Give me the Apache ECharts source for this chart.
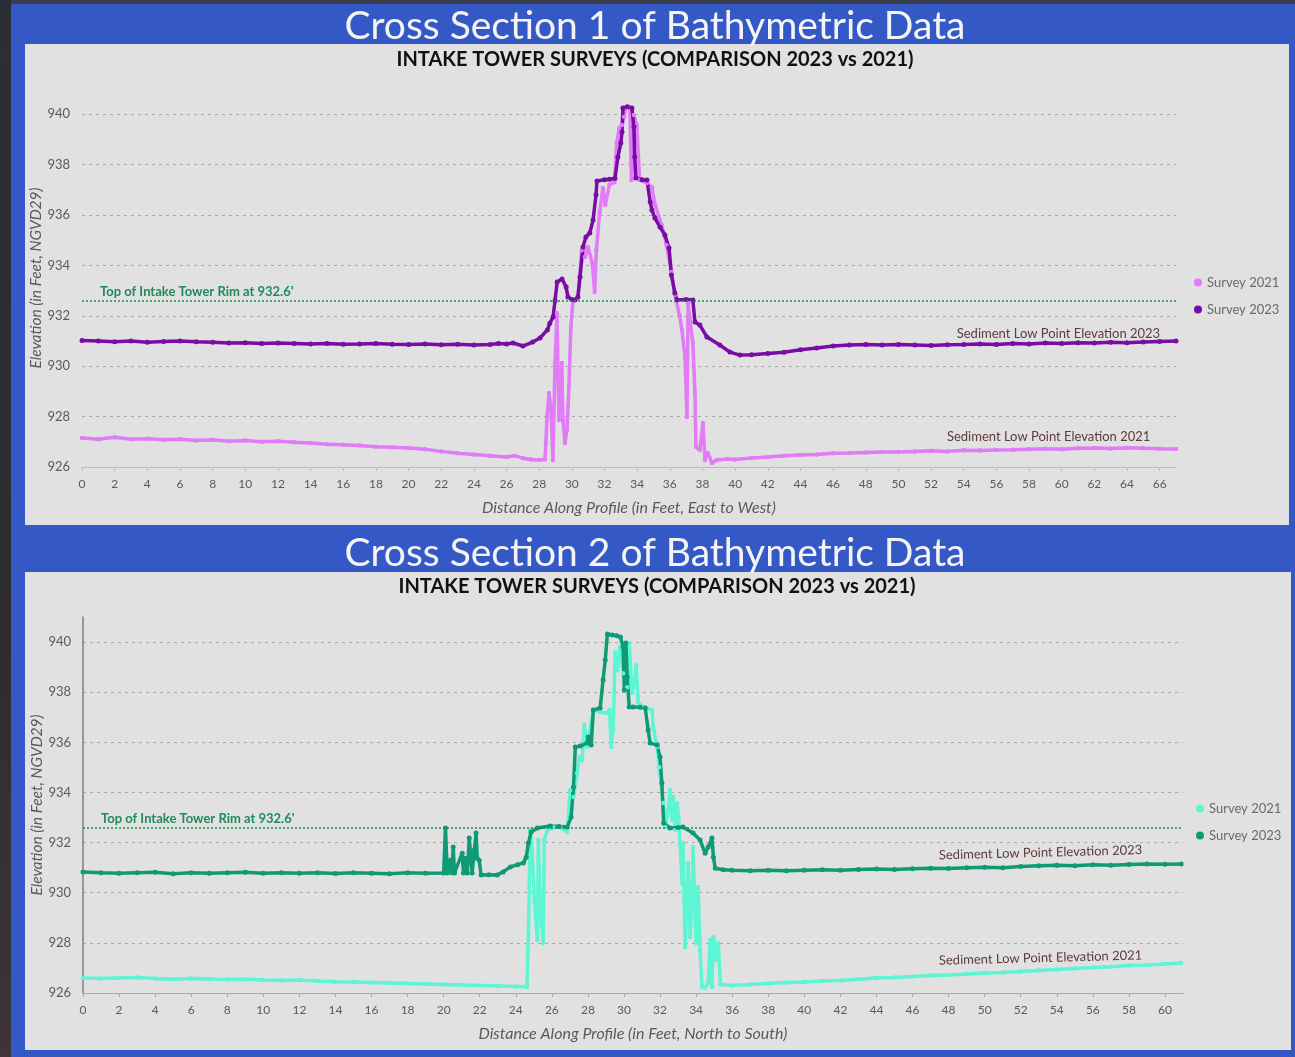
<!DOCTYPE html>
<html><head><meta charset="utf-8">
<script src="https://cdn.jsdelivr.net/npm/echarts@6/dist/echarts.min.js"></script>
<style>html,body{margin:0;padding:0;background:#34363f;overflow:hidden}#c{width:1295px;height:1057px}</style>
</head><body><div id="c"></div>
<script>
// ---------- text ----------
const panelTitles = ['Cross Section 1 of Bathymetric Data', 'Cross Section 2 of Bathymetric Data'];
const subTitle = 'INTAKE TOWER SURVEYS (COMPARISON 2023 vs 2021)';
const yAxisName = 'Elevation (in Feet, NGVD29)';
const xAxisNames = ['Distance Along Profile (in Feet, East to West)', 'Distance Along Profile (in Feet, North to South)'];
const legendNames = ['Survey 2021', 'Survey 2023'];
const rimElevation = 932.6;
const rimLabel = "Top of Intake Tower Rim at 932.6'";
const sedimentLabels = ['Sediment Low Point Elevation 2023', 'Sediment Low Point Elevation 2021'];
// label anchor positions [distance, elevation] for cross section 1 and 2
const cs1LabelPos = [[59.8, 931.3], [59.2, 927.2]];
const cs2LabelPos = [[53.1, 931.6], [53.1, 927.4]];

// ---------- Cross Section 1 data [distance ft, elevation ft] ----------
const cs1_2021 = [[0,927.15],[1,927.1],[2,927.18],[3,927.1],[4,927.12],[5,927.08],[6,927.1],[7,927.05],[8,927.08],[9,927.02],[10,927.05],[11,927.0],[12,927.02],[13,926.98],[14,926.95],[15,926.9],[16,926.88],[17,926.85],[18,926.8],[19,926.78],[20,926.75],[21,926.7],[22,926.62],[23,926.55],[24,926.5],[25,926.45],[26,926.4],[26.5,926.45],[27,926.35],[27.5,926.3],[28,926.28],[28.35,926.3],[28.41,926.95],[28.48,927.98],[28.6,928.94],[28.72,928.34],[28.84,926.28],[28.97,930.13],[29.09,932.11],[29.21,927.87],[29.39,930.13],[29.45,927.87],[29.58,926.95],[29.7,927.47],[29.82,929.17],[29.94,931.56],[30.07,932.63],[30.37,932.7],[30.6,934.6],[30.8,934.33],[30.98,934.73],[31.25,934.1],[31.4,932.94],[31.5,934.6],[31.7,936.1],[31.9,937.07],[32.05,936.4],[32.3,937.2],[32.6,937.3],[32.75,938.86],[32.9,939.45],[33.07,939.57],[33.2,939.9],[33.3,940.25],[33.55,940.29],[33.65,937.39],[33.8,939.97],[33.98,939.57],[34.15,937.39],[34.6,937.27],[34.9,937.1],[35.1,936.4],[35.5,935.6],[35.8,934.8],[36.1,933.74],[36.31,932.83],[36.6,932.0],[36.74,931.44],[36.93,930.37],[37.05,927.98],[37.12,932.5],[37.23,931.83],[37.41,930.92],[37.54,928.94],[37.6,926.8],[37.84,926.67],[38.03,927.75],[38.15,926.28],[38.33,926.56],[38.58,926.16],[38.88,926.28],[39.5,926.32],[40,926.3],[41,926.36],[42,926.4],[43,926.45],[44,926.48],[45,926.5],[46,926.55],[47,926.56],[48,926.58],[49,926.6],[50,926.6],[51,926.62],[52,926.64],[53,926.62],[54,926.66],[55,926.65],[56,926.67],[57,926.68],[58,926.7],[59,926.72],[60,926.7],[61,926.74],[62,926.75],[63,926.73],[64,926.76],[65,926.74],[66,926.72],[67,926.71]];
const cs1_2023 = [[0,931.02],[1,931.0],[2,930.97],[3,931.0],[4,930.95],[5,930.98],[6,931.0],[7,930.97],[8,930.95],[9,930.92],[10,930.93],[11,930.9],[12,930.92],[13,930.9],[14,930.88],[15,930.9],[16,930.87],[17,930.88],[18,930.9],[19,930.87],[20,930.86],[21,930.88],[22,930.85],[23,930.87],[24,930.84],[25,930.86],[25.5,930.9],[26,930.88],[26.4,930.92],[27.0,930.8],[27.6,930.96],[28.05,931.12],[28.5,931.44],[28.65,931.7],[28.85,931.95],[28.97,932.6],[29.1,933.34],[29.4,933.46],[29.65,933.14],[29.76,932.75],[30.0,932.65],[30.19,932.63],[30.37,932.75],[30.5,933.54],[30.68,934.73],[30.86,935.13],[31.1,935.29],[31.3,935.8],[31.48,936.8],[31.54,937.35],[32.0,937.4],[32.3,937.42],[32.64,937.45],[32.82,938.3],[33.0,938.86],[33.07,939.29],[33.13,940.25],[33.4,940.3],[33.68,940.25],[33.8,939.5],[33.85,938.3],[33.92,937.47],[34.3,937.4],[34.6,937.39],[34.8,936.52],[34.9,936.2],[35.09,935.88],[35.4,935.52],[35.7,935.21],[35.95,934.69],[36.1,933.62],[36.31,932.9],[36.44,932.63],[37.0,932.65],[37.41,932.63],[37.54,931.75],[37.84,931.63],[38.27,931.16],[39.06,930.84],[39.68,930.56],[40.3,930.44],[41,930.45],[42,930.5],[43,930.55],[44,930.65],[45,930.72],[46,930.8],[47,930.84],[48,930.86],[49,930.84],[50,930.86],[51,930.84],[52,930.82],[53,930.85],[54,930.86],[55,930.88],[56,930.86],[57,930.9],[58,930.88],[59,930.92],[60,930.9],[61,930.93],[62,930.92],[63,930.95],[64,930.93],[65,930.96],[66,930.98],[67,931.0]];

// ---------- Cross Section 2 data ----------
const cs2_2021 = [[0,926.6],[1,926.58],[2,926.6],[3,926.62],[4,926.58],[5,926.55],[6,926.58],[7,926.56],[8,926.54],[9,926.55],[10,926.52],[11,926.5],[12,926.52],[13,926.48],[14,926.45],[15,926.44],[16,926.42],[17,926.4],[18,926.38],[19,926.36],[20,926.34],[21,926.32],[22,926.3],[23,926.28],[24,926.26],[24.62,926.24],[24.7,928.39],[24.8,932.5],[24.9,931.7],[25.03,929.71],[25.2,928.11],[25.25,932.1],[25.36,929.31],[25.52,927.99],[25.58,932.1],[25.75,932.5],[26.1,932.6],[26.46,932.62],[26.85,932.42],[27.02,934.1],[27.2,933.82],[27.4,934.78],[27.52,935.41],[27.68,935.29],[27.8,936.69],[27.96,935.81],[28.3,937.29],[28.7,937.2],[29.07,937.17],[29.2,937.29],[29.29,935.81],[29.4,936.49],[29.51,939.6],[29.63,938.88],[29.79,939.8],[29.95,938.76],[30.18,938.2],[30.29,939.96],[30.45,937.97],[30.57,938.37],[30.68,939.08],[30.79,937.57],[31.07,937.41],[31.56,937.29],[31.62,936.61],[31.84,935.81],[31.95,935.01],[32.18,933.58],[32.29,932.62],[32.45,933.3],[32.56,934.1],[32.67,932.9],[32.73,933.82],[32.84,932.5],[32.95,933.58],[33.02,933.02],[33.11,931.98],[33.22,930.39],[33.27,931.98],[33.39,927.83],[33.5,929.99],[33.56,931.19],[33.67,928.23],[33.78,929.71],[33.83,931.82],[34.0,927.99],[34.11,930.23],[34.22,927.72],[34.33,926.24],[34.5,926.2],[34.67,926.4],[34.78,928.11],[34.88,926.24],[34.96,928.23],[35.1,927.32],[35.23,927.99],[35.35,926.35],[36,926.3],[37,926.34],[38,926.38],[39,926.42],[40,926.44],[41,926.48],[42,926.5],[43,926.55],[44,926.6],[45,926.62],[46,926.66],[47,926.7],[48,926.72],[49,926.76],[50,926.8],[51,926.82],[52,926.86],[53,926.9],[54,926.94],[55,926.98],[56,927.02],[57,927.05],[58,927.1],[59,927.12],[60,927.16],[60.9,927.2]];
const cs2_2023 = [[0,930.83],[1,930.8],[2,930.78],[3,930.8],[4,930.82],[5,930.76],[6,930.8],[7,930.78],[8,930.8],[9,930.82],[10,930.78],[11,930.8],[12,930.78],[13,930.8],[14,930.77],[15,930.8],[16,930.78],[17,930.76],[18,930.8],[19,930.78],[20.0,930.79],[20.1,932.58],[20.2,930.79],[20.37,931.3],[20.45,930.8],[20.53,931.82],[20.6,930.79],[21.03,931.58],[21.1,930.79],[21.2,931.38],[21.31,930.79],[21.42,932.18],[21.58,930.79],[21.7,931.7],[21.8,932.38],[21.86,931.38],[21.97,931.3],[22.08,930.71],[22.5,930.72],[22.97,930.71],[23.3,930.83],[23.7,931.03],[24.1,931.12],[24.42,931.19],[24.58,931.42],[24.7,931.98],[24.85,932.42],[25.2,932.58],[25.9,932.66],[26.4,932.64],[26.85,932.62],[27.07,933.02],[27.2,934.22],[27.3,935.81],[27.57,935.85],[27.96,935.97],[28.02,936.21],[28.18,935.89],[28.3,937.29],[28.68,937.37],[28.84,938.49],[28.96,939.28],[29.08,940.32],[29.35,940.28],[29.6,940.25],[29.8,940.2],[29.95,939.8],[30.02,938.09],[30.1,939.96],[30.18,938.61],[30.29,937.41],[30.5,937.41],[30.9,937.4],[31.18,937.37],[31.34,936.49],[31.45,935.97],[31.84,935.89],[32.0,935.41],[32.1,934.38],[32.2,932.78],[32.56,932.58],[33.0,932.6],[33.27,932.62],[33.83,932.38],[34.22,932.1],[34.5,931.58],[34.67,931.82],[34.88,932.18],[34.96,931.42],[35.06,930.98],[35.5,930.92],[36,930.9],[37,930.88],[38,930.9],[39,930.88],[40,930.9],[41,930.92],[42,930.9],[43,930.93],[44,930.95],[45,930.93],[46,930.96],[47,930.98],[48,930.97],[49,931.0],[50,931.02],[51,931.0],[52,931.05],[53,931.08],[54,931.1],[55,931.08],[56,931.12],[57,931.1],[58,931.13],[59,931.15],[60,931.14],[60.9,931.15]];

// ---------- axes ----------
const yMin = 926, yMax = 941, yStep = 2;
const xStep = 2;
const cs1XMax = 67, cs2XMax = 61;

const FONT = 'Lato, "Open Sans", "Noto Sans", sans-serif';
const chart = echarts.init(document.getElementById('c'), null, {renderer: 'canvas'});

function yAxisCfg(gridIndex, showLine) {
  return {
    type: 'value', gridIndex, min: yMin, max: yMax, interval: yStep,
    name: yAxisName, nameLocation: 'middle', nameGap: 38, nameMoveOverlap: false,
    nameTextStyle: {color: '#5a5a5a', fontSize: 15.5, fontStyle: 'italic', fontFamily: FONT},
    axisLine: {show: showLine, lineStyle: {color: '#7f7f7f', width: 1.5}},
    axisTick: {show: false},
    axisLabel: {color: '#5a5a5a', fontSize: 13, margin: 12, fontFamily: FONT, showMaxLabel: false},
    splitLine: {show: true, showMinLine: false, showMaxLine: false, lineStyle: {color: '#a9a9a9', type: [3, 4], width: 1}}
  };
}
function xAxisCfg(gridIndex, max, name, lineColor) {
  return {
    type: 'value', gridIndex, min: 0, max, interval: xStep,
    name, nameLocation: 'middle', nameGap: 33,
    nameTextStyle: {color: '#5a5a5a', fontSize: 16, fontStyle: 'italic', fontFamily: FONT},
    axisLine: {show: true, onZero: false, lineStyle: {color: lineColor, width: 1.2}},
    axisTick: {show: true, length: 4, lineStyle: {color: lineColor}},
    axisLabel: {color: '#5a5a5a', fontSize: 12, margin: 11, fontFamily: FONT, showMaxLabel: false},
    splitLine: {show: false}
  };
}
function rimMark() {
  return {
    silent: true, symbol: 'none',
    lineStyle: {color: '#1f8a5c', type: [2, 2], width: 1.6},
    label: {show: true, position: 'insideStartTop', formatter: rimLabel, color: '#1f8a5c',
      fontSize: 13, fontWeight: 'bold', fontFamily: FONT, distance: [18, 2]},
    data: [{yAxis: rimElevation}]
  };
}
function sedMark(pos, text, rot) {
  return {
    silent: true, symbol: 'circle', symbolSize: 0,
    label: {show: true, position: 'inside', formatter: text, color: '#5e3a3a', fontSize: 13,
      fontFamily: FONT, rotate: rot},
    data: [{coord: pos}]
  };
}
function lineSeries(name, data, xi, color, width, size, extra) {
  return Object.assign({
    type: 'line', name, data, xAxisIndex: xi, yAxisIndex: xi,
    symbol: 'circle', symbolSize: size, showSymbol: true, showAllSymbol: true,
    lineStyle: {color, width}, itemStyle: {color}, animation: false, clip: false
  }, extra || {});
}

const option = {
  animation: false,
  backgroundColor: '#3459c7',
  graphic: [
    {type: 'rect', z: -100, silent: true, shape: {x: 0, y: 0, width: 1295, height: 4}, style: {fill: '#3b3f4d'}},
    {type: 'rect', z: -100, silent: true, shape: {x: 0, y: 0, width: 11, height: 1057},
      style: {fill: new echarts.graphic.LinearGradient(0, 0, 0, 1, [{offset: 0, color: '#2b2e38'}, {offset: 0.6, color: '#2e2c30'}, {offset: 1, color: '#3d3536'}])}},
    {type: 'rect', z: -100, silent: true, shape: {x: 25, y: 44, width: 1264, height: 481}, style: {fill: '#e1e1e1'}},
    {type: 'rect', z: -100, silent: true, shape: {x: 25, y: 572, width: 1266, height: 478}, style: {fill: '#e1e1e1'}},
    {type: 'text', z: 100, silent: true, x: 655, y: 26, style: {text: panelTitles[0], fill: '#f4f4f4', fontSize: 39, fontFamily: FONT, fontWeight: 'normal', textAlign: 'center', textVerticalAlign: 'middle'}},
    {type: 'text', z: 100, silent: true, x: 655, y: 553, style: {text: panelTitles[1], fill: '#f4f4f4', fontSize: 39, fontFamily: FONT, fontWeight: 'normal', textAlign: 'center', textVerticalAlign: 'middle'}},
    {type: 'text', z: 100, silent: true, x: 655, y: 60, style: {text: subTitle, fill: '#111', fontSize: 20, fontWeight: 'bold', fontFamily: FONT, textAlign: 'center', textVerticalAlign: 'middle'}},
    {type: 'text', z: 100, silent: true, x: 657, y: 587, style: {text: subTitle, fill: '#111', fontSize: 20, fontWeight: 'bold', fontFamily: FONT, textAlign: 'center', textVerticalAlign: 'middle'}}
  ],
  grid: [
    {left: 82, right: 119, top: 89, bottom: 590, containLabel: false},
    {left: 83, right: 112, top: 617, bottom: 64, containLabel: false}
  ],
  xAxis: [xAxisCfg(0, cs1XMax, xAxisNames[0], '#bdbdbd'), xAxisCfg(1, cs2XMax, xAxisNames[1], '#a8a8a8')],
  yAxis: [yAxisCfg(0, false), yAxisCfg(1, true)],
  legend: [
    {orient: 'vertical', left: 1189, top: 271, itemGap: 14, itemWidth: 8, itemHeight: 8, icon: 'circle',
      data: legendNames, textStyle: {color: '#6a6a6a', fontSize: 13, fontFamily: FONT}, selectedMode: false},
    {orient: 'vertical', left: 1191, top: 797, itemGap: 14, itemWidth: 8, itemHeight: 8, icon: 'circle',
      data: legendNames.map(n => n + ' (XS2)'), formatter: n => n.replace(' (XS2)', ''),
      textStyle: {color: '#6a6a6a', fontSize: 13, fontFamily: FONT}, selectedMode: false}
  ],
  series: [
    lineSeries(legendNames[0], cs1_2021, 0, '#e07cf6', 3.5, 4.5, {markPoint: sedMark(cs1LabelPos[1], sedimentLabels[1], 0)}),
    lineSeries(legendNames[1], cs1_2023, 0, '#780ca5', 3.5, 5, {markLine: rimMark(), markPoint: sedMark(cs1LabelPos[0], sedimentLabels[0], 0)}),
    lineSeries(legendNames[0] + ' (XS2)', cs2_2021, 1, '#5df5d3', 3.5, 4.5, {markPoint: sedMark(cs2LabelPos[1], sedimentLabels[1], 1.5)}),
    lineSeries(legendNames[1] + ' (XS2)', cs2_2023, 1, '#0f9a76', 3.5, 5, {markLine: rimMark(), markPoint: sedMark(cs2LabelPos[0], sedimentLabels[0], 1.5)})
  ]
};
chart.setOption(option);
</script>
</body></html>
